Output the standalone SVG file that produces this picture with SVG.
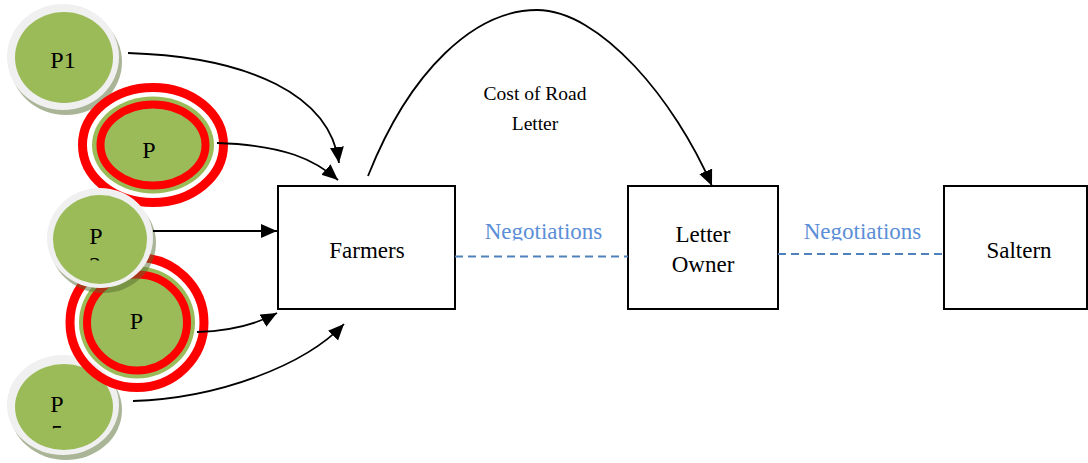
<svg xmlns="http://www.w3.org/2000/svg" width="1088" height="463" viewBox="0 0 1088 463">
<style>
text{font-family:"Liberation Serif","Times New Roman",serif;fill:#000}
.lbl{font-size:23px;text-anchor:middle}
.plbl{font-size:24px;text-anchor:middle}
.cost{font-size:19.5px;text-anchor:middle}
.neg{font-size:23px;text-anchor:middle;fill:#5B8ED6}
.box{fill:#fff;stroke:#000;stroke-width:2}
.ring{fill:#F0F0F0}
.shadow{fill:#556B2F;opacity:0.5}
.green{fill:#9BBB59}
.red{fill:none;stroke:#FF0000}
.conn{fill:none;stroke:#000;stroke-width:1.8}
.dash{fill:none;stroke:#4F81BD;stroke-width:1.8;stroke-dasharray:8 5}
</style>
<defs>
<marker id="arr" markerUnits="userSpaceOnUse" markerWidth="17" markerHeight="15" refX="16" refY="7" orient="auto" viewBox="0 0 17 15">
<path d="M0,0 L16,7 L0,14 z" fill="#000"/>
</marker>
<clipPath id="clipP2"><rect x="0" y="180" width="200" height="80.5"/></clipPath>
<clipPath id="clipP5"><rect x="0" y="350" width="200" height="78.5"/></clipPath>
<clipPath id="clipNeg"><rect x="440" y="200" width="520" height="40.5"/></clipPath>
</defs>

<g id="p1">
<ellipse class="shadow" cx="66" cy="62" rx="56" ry="53"/>
<ellipse class="ring" cx="63" cy="57" rx="56" ry="53"/>
<ellipse class="green" cx="64" cy="57.5" rx="49" ry="45.5"/>
<text class="plbl" x="63" y="67.5">P1</text>
</g>

<g id="p-upper">
<ellipse class="red" cx="153" cy="145" rx="70.5" ry="57.5" stroke-width="9"/>
<ellipse class="green" cx="153" cy="145" rx="61" ry="48.5"/>
<ellipse class="red" cx="153" cy="145" rx="52.5" ry="40.5" stroke-width="8"/>
<text class="plbl" x="149" y="158">P</text>
</g>

<g id="p5">
<ellipse class="shadow" cx="66" cy="410" rx="56" ry="50"/>
<ellipse class="ring" cx="63" cy="405" rx="56" ry="50"/>
<ellipse class="green" cx="64" cy="407" rx="49" ry="43"/>
<text class="plbl" clip-path="url(#clipP5)" x="57" y="412">P<tspan x="57" y="441">5</tspan></text>
</g>

<g id="p-lower">
<ellipse class="red" cx="137" cy="322.5" rx="67" ry="65" stroke-width="9"/>
<ellipse class="green" cx="137" cy="322.5" rx="58" ry="56"/>
<ellipse class="red" cx="137" cy="322.5" rx="50" ry="48" stroke-width="8"/>
<text class="plbl" x="136.5" y="329">P</text>
</g>

<g id="p2">
<ellipse class="shadow" cx="103" cy="243" rx="53" ry="50"/>
<ellipse class="ring" cx="100" cy="238" rx="53" ry="50"/>
<ellipse class="green" cx="100" cy="239.5" rx="47" ry="44.5"/>
<text class="plbl" clip-path="url(#clipP2)" x="96" y="244">P<tspan x="95" y="273">2</tspan></text>
</g>

<g id="farmers">
<rect class="box" x="278" y="186" width="177" height="123"/>
<text class="lbl" x="367" y="258">Farmers</text>
</g>

<g id="letter-owner">
<rect class="box" x="628" y="186" width="150" height="123"/>
<text class="lbl" x="703" y="242">Letter</text>
<text class="lbl" x="703" y="272">Owner</text>
</g>

<g id="saltern">
<rect class="box" x="944" y="186" width="143" height="123"/>
<text class="lbl" x="1019" y="258">Saltern</text>
</g>

<g id="connectors">
<path class="conn" marker-end="url(#arr)" d="M128,53 C250,57 330,95 339,163"/>
<path class="conn" marker-end="url(#arr)" d="M217,143 C285,145 315,160 338,180"/>
<path class="conn" marker-end="url(#arr)" d="M153,231 L277,231"/>
<path class="conn" marker-end="url(#arr)" d="M197,332 C230,331 255,325 277,313"/>
<path class="conn" marker-end="url(#arr)" d="M133,401 C220,398 305,365 344,324"/>
<path class="conn" marker-end="url(#arr)" d="M368,176 C410,70 475,10 537,10 C600,10 675,100 712,186"/>
<path class="dash" d="M455,256.5 L628,256.5"/>
<path class="dash" d="M778,254 L944,254"/>
<text class="cost" x="535" y="100">Cost of Road</text>
<text class="cost" x="535" y="130">Letter</text>
<g clip-path="url(#clipNeg)">
<text class="neg" x="543.5" y="239">Negotiations</text>
<text class="neg" x="862.5" y="239">Negotiations</text>
</g>
</g>
</svg>
